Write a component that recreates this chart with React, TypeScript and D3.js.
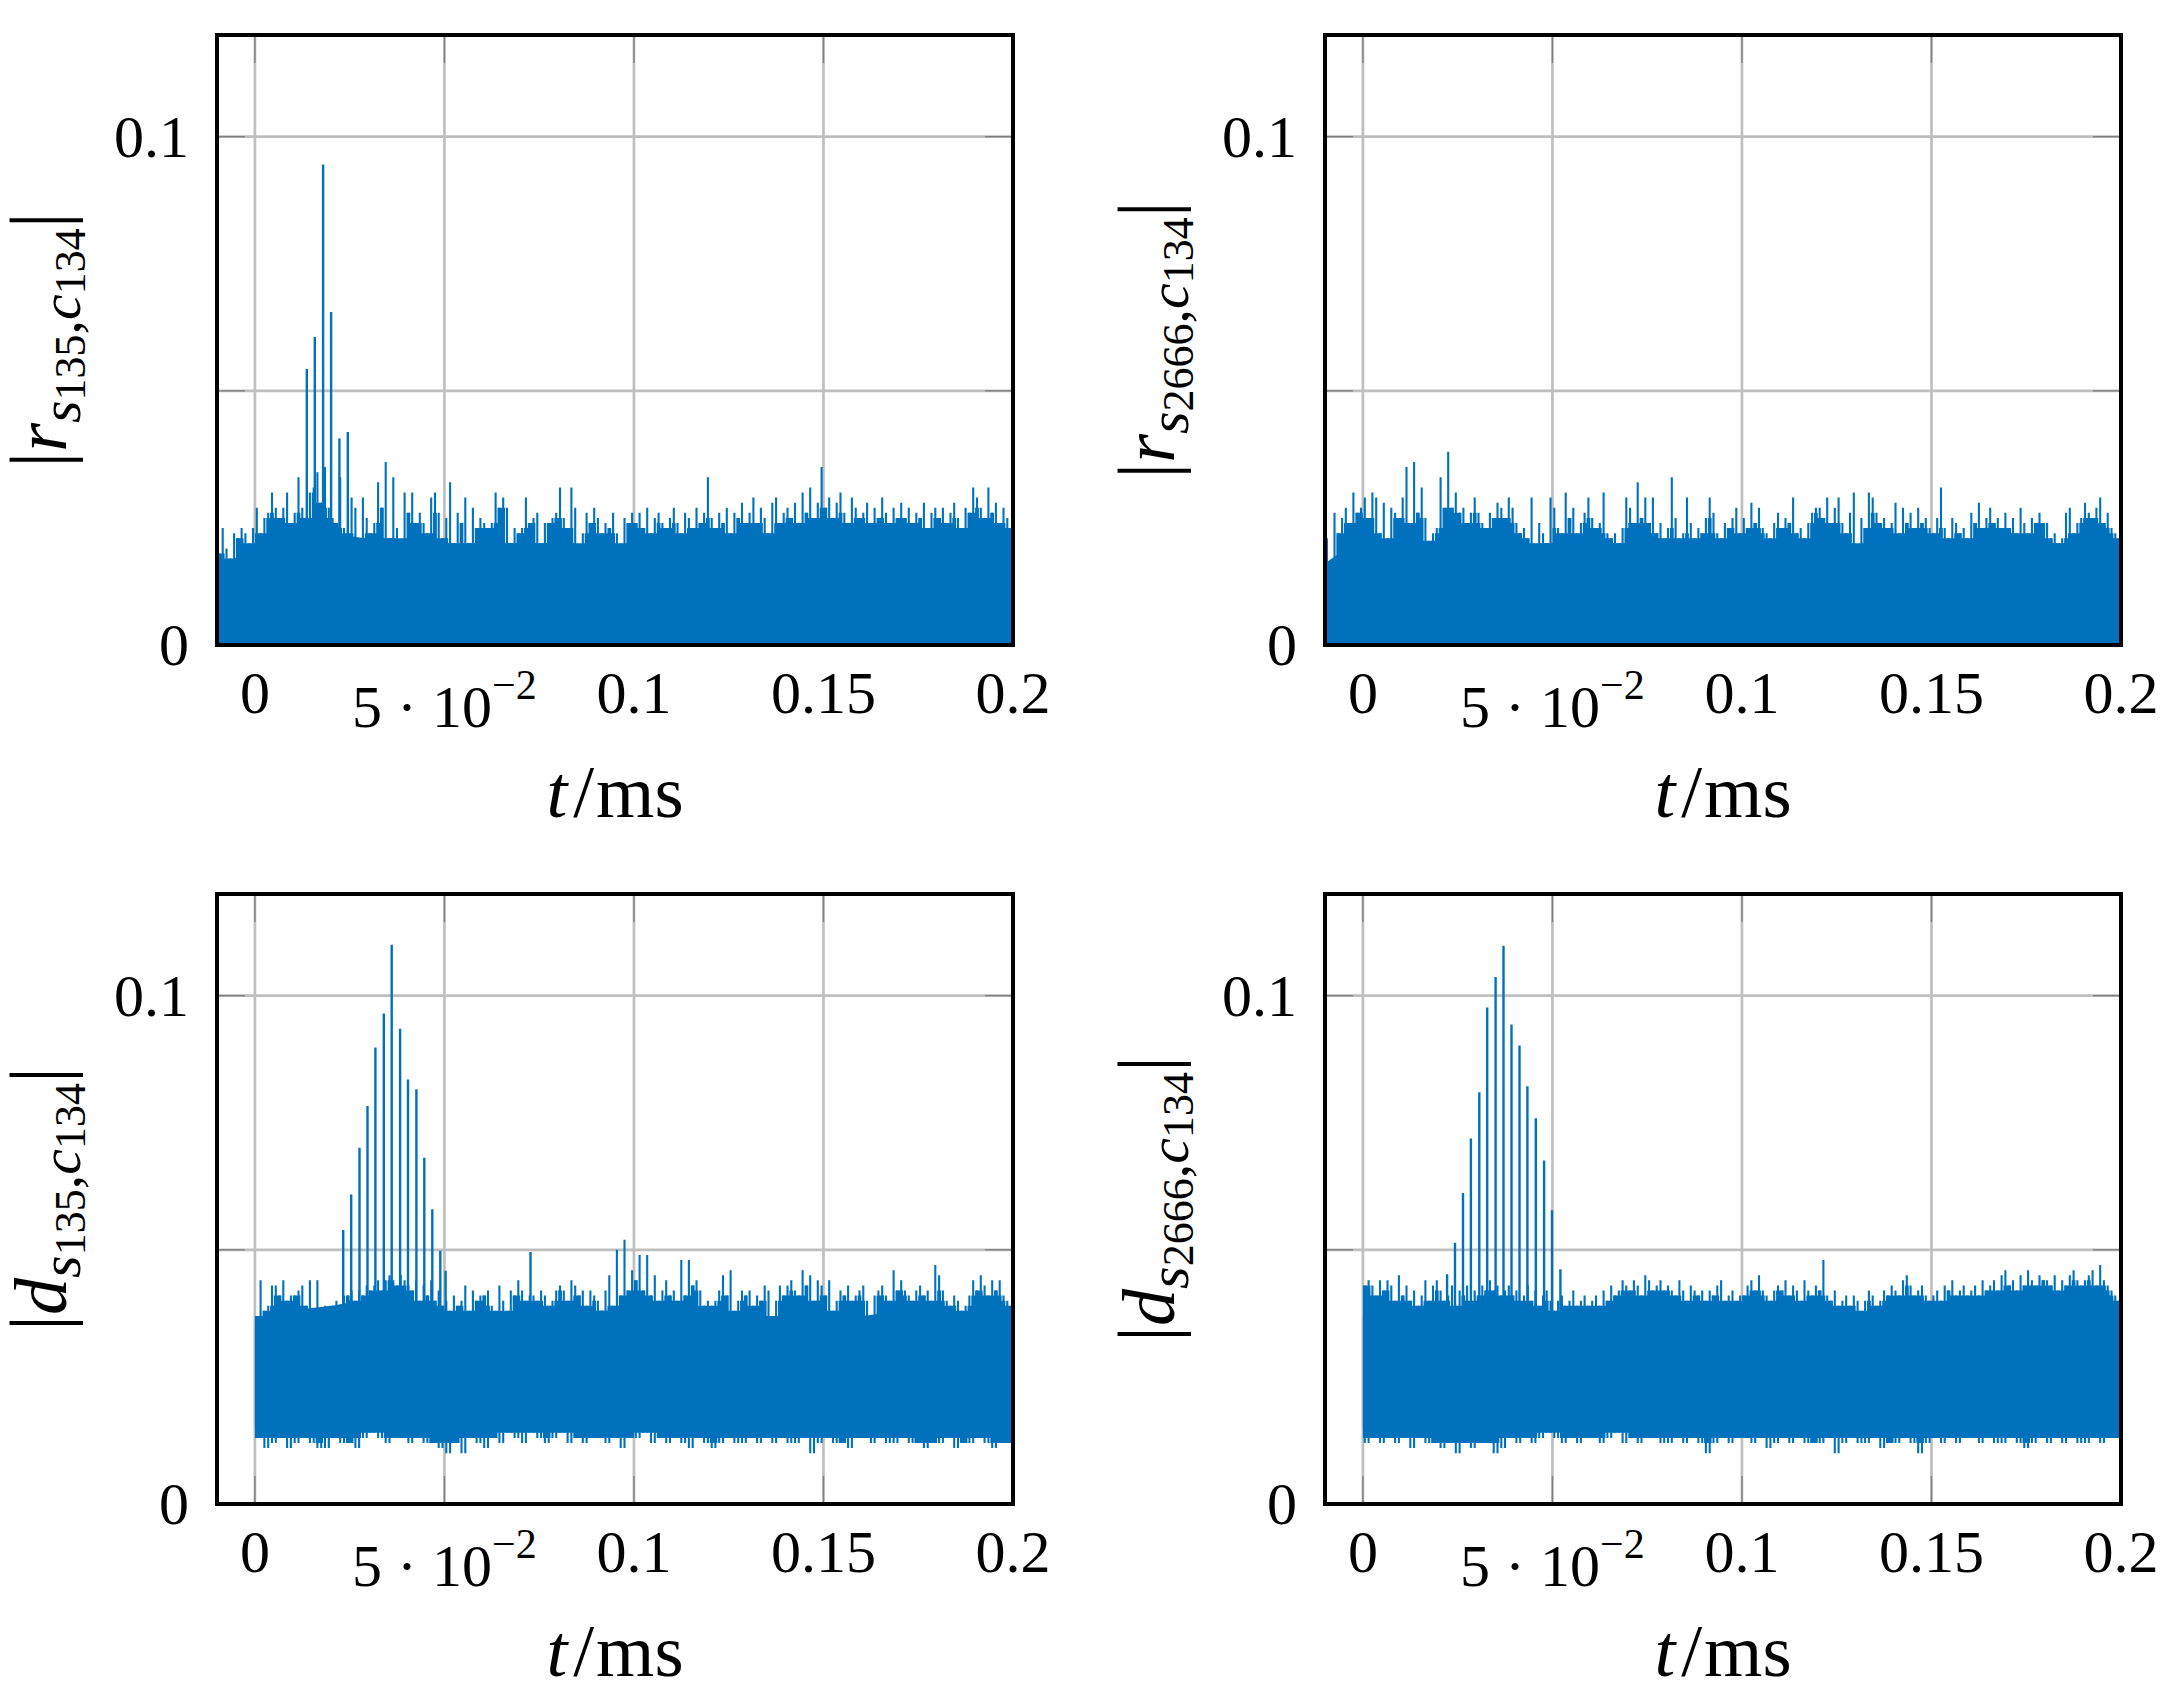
import * as d3 from "d3";

const BLUE = "#0072BD";
const FONT = "'Liberation Serif', 'DejaVu Serif', serif";

const X_DOMAIN: [number, number] = [-0.01, 0.2];
const Y_DOMAIN: [number, number] = [0, 0.12];
const X_TICKS = [0, 0.05, 0.1, 0.15, 0.2];
const Y_TICKS = [0, 0.05, 0.1];
const Y_TICK_LABELS = ["0", "", "0.1"];

// all amplitudes below are in units of 1e-3
// peaks: one value per 0.001 ms bin, troughs: one per 0.002 ms bin
// core: edge of the dense part of the trace, every 0.01 ms

const rS135Peaks = [
  18, 23, 19, 17, 22, 21, 23, 22, 20, 23,
  27, 22, 25, 26, 30, 27, 25, 27, 30, 24,
  26, 33, 27, 25, 30, 31, 34, 28, 35, 27,
  25, 24, 33, 23, 22, 29, 27, 21, 29, 25,
  22, 24, 32, 27, 36, 21, 33, 23, 20, 30,
  26, 30, 24, 26, 24, 22, 29, 30, 26, 21,
  25, 32, 20, 26, 24, 29, 20, 27, 23, 25,
  24, 23, 24, 30, 27, 29, 27, 20, 23, 22,
  23, 29, 24, 25, 26, 20, 24, 24, 25, 26,
  31, 25, 23, 31, 27, 19, 22, 26, 24, 27,
  25, 22, 24, 23, 26, 22, 19, 25, 24, 26,
  24, 26, 23, 27, 22, 25, 26, 24, 23, 25,
  27, 24, 22, 26, 25, 23, 27, 24, 26, 33,
  25, 23, 26, 24, 27, 22, 26, 25, 28, 24,
  26, 29, 24, 27, 25, 22, 28, 29, 24, 26,
  27, 25, 28, 24, 30, 26, 31, 25, 28, 35,
  27, 29, 25, 28, 30, 26, 24, 29, 27, 25,
  26, 28, 24, 27, 25, 29, 26, 24, 27, 25,
  28, 25, 27, 24, 26, 25, 28, 23, 26, 27,
  25, 27, 24, 26, 28, 25, 23, 27, 26, 31,
  29, 27, 25, 31, 26, 28, 24, 27, 25, 23,
];
const rS135Core = [15, 19, 21, 22, 21, 21, 20, 20, 20, 20, 20, 20, 20, 21, 21, 21, 21, 20, 20, 21, 21, 20];
const rS135Pulses: [number, number][] = [
  [0.0137, 54.3], [0.0158, 60.6], [0.018, 94.5], [0.0201, 65.5], [0.0223, 40.6], [0.0245, 41.9],
];

const rS2666Peaks = [
  21, 15, 26, 22, 25, 27, 24, 30, 26, 27,
  29, 25, 30, 29, 22, 28, 21, 27, 26, 25,
  29, 35, 24, 36, 26, 31, 25, 19, 22, 23,
  33, 27, 38, 27, 30, 26, 27, 24, 26, 29,
  26, 24, 23, 26, 25, 28, 27, 25, 29, 27,
  24, 22, 23, 21, 29, 19, 24, 22, 20, 29,
  27, 23, 22, 30, 25, 27, 22, 24, 26, 29,
  25, 23, 24, 30, 22, 21, 22, 20, 23, 29,
  27, 24, 32, 25, 29, 24, 29, 22, 24, 21,
  23, 33, 25, 21, 22, 29, 24, 21, 23, 22,
  25, 29, 26, 22, 21, 24, 23, 25, 27, 22,
  25, 23, 28, 24, 27, 23, 22, 21, 24, 26,
  23, 25, 24, 29, 22, 23, 21, 24, 26, 27,
  27, 25, 29, 24, 27, 29, 24, 22, 26, 30,
  18, 25, 23, 30, 29, 26, 24, 25, 23, 24,
  28, 22, 27, 24, 26, 23, 27, 24, 25, 23,
  22, 25, 31, 23, 21, 25, 24, 22, 23, 21,
  26, 24, 28, 23, 25, 27, 24, 25, 23, 26,
  23, 25, 22, 27, 24, 22, 25, 24, 26, 24,
  24, 21, 22, 20, 21, 26, 27, 22, 24, 25,
  28, 26, 25, 27, 29, 24, 26, 23, 22, 21,
];
const rS2666Core = [16, 20, 20.5, 20.5, 20.5, 20, 20, 20, 20, 20, 20, 20, 20, 20, 20, 20, 20, 20, 20, 20, 20, 20];

const dS135Peaks = [
  37, 44, 38, 39, 43, 43, 41, 44, 40, 41,
  41, 42, 43, 39, 44, 38, 44, 35, 39, 38,
  39, 40, 38, 41, 41, 42, 40, 42, 41, 43,
  42, 43, 44, 42, 44, 45, 44, 43, 45, 44,
  43, 42, 44, 40, 43, 41, 44, 40, 42, 39,
  40, 38, 41, 39, 40, 43, 38, 42, 40, 41,
  41, 42, 39, 38, 43, 40, 38, 42, 41, 44,
  42, 40, 41, 41, 40, 42, 41, 39, 40, 42,
  43, 42, 40, 44, 43, 41, 42, 39, 42, 41,
  40, 38, 42, 45, 39, 50, 41, 52, 42, 46,
  44, 49, 42, 49, 41, 45, 40, 42, 44, 41,
  42, 40, 48, 41, 48, 43, 44, 42, 39, 40,
  39, 40, 42, 45, 41, 46, 38, 40, 42, 41,
  42, 39, 41, 40, 43, 42, 37, 40, 43, 41,
  43, 44, 42, 41, 46, 43, 45, 40, 44, 43,
  41, 44, 38, 40, 42, 41, 43, 40, 41, 42,
  43, 40, 37, 41, 42, 43, 41, 40, 46, 42,
  44, 42, 41, 40, 42, 43, 41, 42, 40, 47,
  45, 42, 40, 39, 41, 40, 38, 39, 41, 44,
  42, 45, 43, 41, 44, 42, 44, 41, 40, 39,
];
const dS135Troughs = [
  13, 11, 12, 13, 11, 12, 13, 12, 11, 11,
  13, 12, 12, 11, 13, 14, 13, 12, 13, 13,
  12, 13, 12, 12, 11, 10, 12, 10, 13, 12,
  11, 13, 12, 14, 13, 12, 14, 13, 12, 13,
  14, 12, 13, 12, 13, 13, 12, 13, 11, 13,
  13, 14, 12, 13, 12, 13, 12, 11, 13, 12,
  11, 12, 13, 12, 12, 13, 12, 13, 12, 13,
  12, 12, 13, 10, 12, 13, 12, 12, 11, 13,
  13, 12, 13, 12, 12, 13, 12, 12, 11, 12,
  12, 13, 11, 12, 12, 13, 12, 11, 12, 12,
];
const dS135CoreTop = [36, 38, 39, 40, 40, 38, 37, 37, 38, 38, 38, 37, 37, 37, 37, 38, 37, 38, 38, 37, 37];
const dS135CoreBottom = [15, 15.5, 16, 16, 16.5, 16.5, 16.5, 16, 16, 16, 16, 16, 16, 16, 16, 16, 16, 16, 16, 16, 16];
const dS135Pulses: [number, number][] = [
  [0.0233, 53.9], [0.0254, 60.9], [0.0276, 70.1], [0.0297, 78.3], [0.0318, 89.8],
  [0.034, 96.5], [0.0361, 110], [0.0383, 93.5], [0.0404, 83.5], [0.0426, 81.6],
  [0.0447, 68.1], [0.0468, 58], [0.0489, 49.8], [0.0503, 45.9], [0.0727, 49.6],
];

const dS2666Peaks = [
  43, 44, 43, 41, 44, 42, 44, 43, 40, 45,
  41, 43, 40, 42, 39, 41, 44, 40, 43, 44,
  42, 40, 41, 43, 39, 42, 41, 43, 40, 42,
  41, 43, 42, 44, 42, 43, 41, 42, 43, 41,
  42, 40, 41, 43, 40, 42, 39, 41, 42, 40,
  38, 40, 41, 39, 40, 42, 39, 40, 41, 39,
  40, 41, 39, 42, 40, 43, 41, 42, 44, 43,
  42, 44, 43, 41, 45, 44, 42, 43, 44, 42,
  43, 42, 41, 44, 42, 40, 43, 42, 41, 42,
  40, 42, 41, 43, 44, 40, 41, 42, 40, 41,
  41, 43, 44, 42, 45, 42, 41, 40, 42, 43,
  42, 44, 41, 43, 42, 40, 44, 42, 41, 43,
  42, 48, 41, 40, 42, 39, 40, 41, 39, 41,
  40, 38, 40, 42, 41, 39, 40, 42, 41, 43,
  42, 41, 44, 45, 43, 41, 42, 43, 41, 40,
  41, 42, 40, 43, 42, 44, 41, 42, 43, 41,
  42, 43, 41, 44, 42, 43, 44, 42, 45, 46,
  43, 44, 42, 45, 43, 46, 44, 43, 45, 44,
  44, 43, 45, 42, 44, 43, 45, 46, 44, 43,
  44, 45, 46, 43, 47, 44, 43, 42, 41, 40,
];
const dS2666Troughs = [
  12, 13, 12, 13, 12, 13, 11, 13, 12, 12,
  11, 12, 10, 12, 11, 12, 12, 10, 11, 13,
  12, 13, 12, 13, 14, 13, 12, 13, 12, 13,
  13, 12, 13, 14, 12, 13, 12, 13, 13, 12,
  12, 13, 12, 13, 12, 10, 12, 13, 12, 13,
  13, 12, 13, 11, 12, 13, 12, 13, 12, 12,
  12, 13, 10, 12, 13, 12, 12, 13, 11, 12,
  12, 13, 12, 10, 12, 13, 12, 13, 12, 13,
  13, 12, 13, 12, 12, 13, 12, 11, 12, 13,
  12, 13, 12, 13, 12, 12, 13, 12, 13, 13,
];
const dS2666CoreTop = [37, 38, 38, 39, 38, 37, 37, 38, 38, 38, 38, 38, 37, 37, 38, 38, 38, 39, 39, 39, 39];
const dS2666CoreBottom = [15, 16, 16, 16, 16, 16.5, 16.5, 16, 16, 16, 16, 16, 16, 16, 16, 16, 16, 16, 16, 16, 16];
const dS2666Pulses: [number, number][] = [
  [0.0222, 45.2], [0.0243, 51.4], [0.0264, 61.2], [0.0285, 71.9], [0.0307, 81],
  [0.0328, 97.7], [0.035, 103.7], [0.0371, 109.8], [0.0392, 94.3], [0.0413, 90.2],
  [0.0434, 82.2], [0.0456, 75.9], [0.0478, 67.6], [0.0499, 57.8], [0.0521, 46.2],
];

interface Series {
  start: number; // first sample time, ms
  peaks: number[];
  troughs?: number[];
  coreTop: number[];
  coreBottom?: number[];
  pulses: [number, number][];
}

interface PanelProps {
  id: string;
  left: number;
  top: number;
  series: Series;
  letter: string;
  index: string;
}

const W = 796;
const H = 610;

function Panel({ id, left, top, series, letter, index }: PanelProps) {
  const x = d3.scaleLinear().domain(X_DOMAIN).range([left, left + W]);
  const y = d3.scaleLinear().domain(Y_DOMAIN).range([top + H, top]);
  const k = 1e-3;
  const { peaks, troughs } = series;

  const coreT0 = series.coreBottom ? 0 : -0.01;
  const core = series.coreTop.map((v, i) => ({
    t: coreT0 + i * 0.01,
    hi: v * k,
    lo: series.coreBottom ? series.coreBottom[i] * k : 0,
  }));
  type Pt = { t: number; hi: number; lo: number };
  const band = d3
    .area<Pt>()
    .x((d) => x(d.t))
    .y0((d) => y(d.lo))
    .y1((d) => y(d.hi));

  // skyline of the dense trace: each bin filled up to its lower neighbour
  const skyline: Pt[] = peaks.map((v, i) => {
    const hi = Math.min(v, peaks[i - 1] ?? v, peaks[i + 1] ?? v) * k;
    let lo = 0;
    if (troughs) {
      const j = Math.floor(i / 2);
      lo = Math.max(troughs[j], troughs[j - 1] ?? troughs[j], troughs[j + 1] ?? troughs[j]) * k;
    }
    return { t: series.start + i * 0.001, hi, lo };
  });
  const last = skyline[skyline.length - 1];
  skyline.unshift({ ...skyline[0], t: skyline[0].t - 0.0005 });
  skyline.push({ ...last, t: last.t + 0.0005 });

  let spikes = "";
  peaks.forEach((v, i) => {
    const t = series.start + i * 0.001;
    const lo = troughs ? troughs[Math.floor(i / 2)] * k : 0;
    spikes += `M${x(t).toFixed(1)},${y(lo).toFixed(1)}V${y(v * k).toFixed(1)}`;
  });
  let pulses = "";
  series.pulses.forEach(([t, v]) => {
    pulses += `M${x(t).toFixed(1)},${y(0.02).toFixed(1)}V${y(v * k).toFixed(1)}`;
  });

  const tickLen = 28;
  const bottom = top + H;
  const right = left + W;
  const labelX = left - 151;
  const labelY = top + H / 2;

  return (
    <g>
      <defs>
        <clipPath id={id}>
          <rect x={left} y={top} width={W} height={H} />
        </clipPath>
      </defs>

      {/* grid */}
      <g stroke="#bfbfbf" strokeWidth={2.7}>
        {X_TICKS.map((t) => (
          <line key={"gx" + t} x1={x(t)} x2={x(t)} y1={top} y2={bottom} />
        ))}
        {Y_TICKS.map((v) => (
          <line key={"gy" + v} x1={left} x2={right} y1={y(v)} y2={y(v)} />
        ))}
      </g>
      <g stroke="#808080" strokeWidth={1.4}>
        {X_TICKS.map((t) => (
          <g key={"tx" + t}>
            <line x1={x(t)} x2={x(t)} y1={bottom} y2={bottom - tickLen} />
            <line x1={x(t)} x2={x(t)} y1={top} y2={top + tickLen} />
          </g>
        ))}
        {Y_TICKS.map((v) => (
          <g key={"ty" + v}>
            <line x1={left} x2={left + tickLen} y1={y(v)} y2={y(v)} />
            <line x1={right} x2={right - tickLen} y1={y(v)} y2={y(v)} />
          </g>
        ))}
      </g>

      {/* trace */}
      <g clipPath={`url(#${id})`} fill={BLUE}>
        <path d={band.curve(d3.curveMonotoneX)(core) ?? ""} />
        <path d={band.curve(d3.curveStep)(skyline) ?? ""} />
        <path d={spikes} stroke={BLUE} strokeWidth={2.1} fill="none" />
        <path d={pulses} stroke={BLUE} strokeWidth={2.4} fill="none" />
      </g>

      <rect x={left} y={top} width={W} height={H} fill="none" stroke="#000" strokeWidth={4} />

      {/* tick labels */}
      <g fontFamily={FONT} fontSize={60} fill="#000">
        {X_TICKS.map((t) =>
          t === 0.05 ? (
            <text key={"lx" + t} x={x(t)} y={bottom + 82} textAnchor="middle">
              5 · 10
              <tspan fontSize={42} dy={-28}>
                −2
              </tspan>
            </text>
          ) : (
            <text key={"lx" + t} x={x(t)} y={bottom + 68} textAnchor="middle">
              {String(t)}
            </text>
          )
        )}
        {Y_TICKS.map((v, i) =>
          Y_TICK_LABELS[i] ? (
            <text key={"ly" + v} x={left - 28} y={y(v) + 20} textAnchor="end">
              {Y_TICK_LABELS[i]}
            </text>
          ) : null
        )}
      </g>

      {/* axis labels */}
      <text x={left + W / 2} y={bottom + 172} textAnchor="middle" fontFamily={FONT} fontSize={75}>
        <tspan fontStyle="italic">t</tspan>
        <tspan dx={6}>/</tspan>
        <tspan dx={2}>ms</tspan>
      </text>
      <text
        x={labelX}
        y={labelY}
        transform={`rotate(-90 ${labelX} ${labelY})`}
        textAnchor="middle"
        fontFamily={FONT}
        fontSize={74}
      >
        <tspan fontSize={80}>|</tspan>
        <tspan fontStyle="italic">{letter}</tspan>
        <tspan fontSize={58} fontStyle="italic" dy={14}>
          s
        </tspan>
        <tspan fontSize={44} dy={5}>
          {index}
        </tspan>
        <tspan fontSize={58} dy={-5}>
          ,
        </tspan>
        <tspan fontSize={58} fontStyle="italic">
          c
        </tspan>
        <tspan fontSize={44} dy={5}>
          134
        </tspan>
        <tspan fontSize={80} dy={-19}>
          |
        </tspan>
      </text>
    </g>
  );
}

export default function App() {
  const panels: PanelProps[] = [
    {
      id: "p1", left: 217, top: 35, letter: "r", index: "135",
      series: { start: -0.0095, peaks: rS135Peaks, coreTop: rS135Core, pulses: rS135Pulses },
    },
    {
      id: "p2", left: 1325, top: 35, letter: "r", index: "2666",
      series: { start: -0.0095, peaks: rS2666Peaks, coreTop: rS2666Core, pulses: [] },
    },
    {
      id: "p3", left: 217, top: 894, letter: "d", index: "135",
      series: {
        start: 0.0005, peaks: dS135Peaks, troughs: dS135Troughs,
        coreTop: dS135CoreTop, coreBottom: dS135CoreBottom, pulses: dS135Pulses,
      },
    },
    {
      id: "p4", left: 1325, top: 894, letter: "d", index: "2666",
      series: {
        start: 0.0005, peaks: dS2666Peaks, troughs: dS2666Troughs,
        coreTop: dS2666CoreTop, coreBottom: dS2666CoreBottom, pulses: dS2666Pulses,
      },
    },
  ];

  return (
    <svg
      width={2166}
      height={1704}
      viewBox="0 0 2166 1704"
      style={{ position: "absolute", left: 0, top: 0, background: "#fff" }}
    >
      <rect width={2166} height={1704} fill="#fff" />
      {panels.map((p) => (
        <Panel key={p.id} {...p} />
      ))}
    </svg>
  );
}
